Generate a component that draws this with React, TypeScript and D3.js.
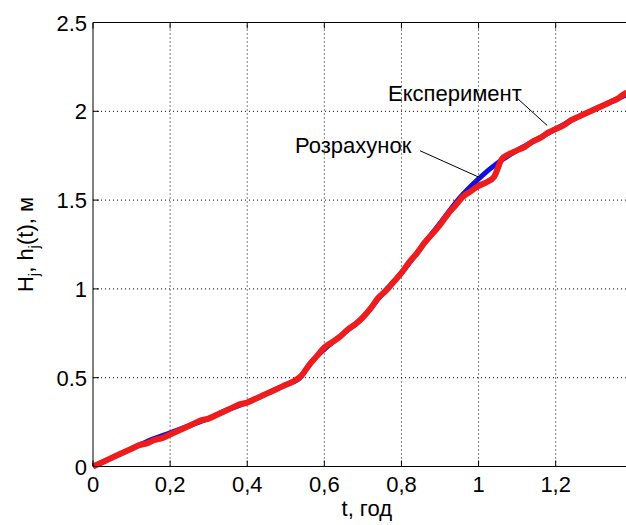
import { useEffect, useRef } from "react";
import * as d3 from "d3";

// t, years
const calcT = [0, 0.05, 0.1, 0.15, 0.2, 0.25, 0.3, 0.35, 0.4, 0.45, 0.5, 0.537, 0.56, 0.58, 0.6, 0.65, 0.7, 0.75, 0.8, 0.85, 0.9, 0.95, 1.0, 1.05, 1.1, 1.15, 1.2, 1.25, 1.3, 1.35, 1.4, 1.42];
const calcH = [0, 0.05, 0.1, 0.15, 0.19, 0.23, 0.27, 0.32, 0.36, 0.41, 0.46, 0.5, 0.57, 0.62, 0.66, 0.75, 0.84, 0.97, 1.09, 1.23, 1.37, 1.51, 1.62, 1.71, 1.78, 1.84, 1.9, 1.96, 2.01, 2.06, 2.11, 2.13];

const expT = [0, 0.02, 0.04, 0.06, 0.08, 0.1, 0.12, 0.14, 0.16, 0.18, 0.2, 0.22, 0.24, 0.26, 0.28, 0.3, 0.32, 0.34, 0.36, 0.38, 0.4, 0.42, 0.44, 0.46, 0.48, 0.5, 0.52, 0.54, 0.56, 0.58, 0.6, 0.62, 0.64, 0.66, 0.68, 0.7, 0.72, 0.74, 0.76, 0.78, 0.8, 0.82, 0.84, 0.86, 0.88, 0.9, 0.92, 0.94, 0.96, 0.98, 1.0, 1.02, 1.04, 1.06, 1.08, 1.1, 1.12, 1.14, 1.16, 1.18, 1.2, 1.22, 1.24, 1.26, 1.28, 1.3, 1.32, 1.34, 1.36, 1.38, 1.4, 1.42];
const expH = [0, 0.02, 0.04, 0.06, 0.08, 0.1, 0.12, 0.13, 0.15, 0.16, 0.18, 0.2, 0.22, 0.24, 0.26, 0.27, 0.29, 0.31, 0.33, 0.35, 0.36, 0.38, 0.4, 0.42, 0.44, 0.46, 0.48, 0.51, 0.57, 0.62, 0.67, 0.7, 0.73, 0.77, 0.8, 0.84, 0.89, 0.95, 0.99, 1.04, 1.09, 1.15, 1.2, 1.26, 1.31, 1.36, 1.42, 1.47, 1.52, 1.55, 1.58, 1.6, 1.63, 1.73, 1.76, 1.78, 1.8, 1.83, 1.85, 1.88, 1.9, 1.92, 1.95, 1.97, 1.99, 2.01, 2.03, 2.05, 2.07, 2.1, 2.11, 2.13];

const xTicks = [0, 0.2, 0.4, 0.6, 0.8, 1, 1.2];
const xTickLabels = ["0", "0,2", "0,4", "0,6", "0,8", "1", "1,2"];
const yTicks = [0, 0.5, 1, 1.5, 2, 2.5];
const yTickLabels = ["0", "0.5", "1", "1.5", "2", "2.5"];

export default function App() {
  const ref = useRef<SVGSVGElement>(null);

  useEffect(() => {
    const svg = d3.select(ref.current);
    svg.selectAll("*").remove();
    const font = "'Liberation Sans', Arial, sans-serif";
    const fs = 22;

    const x0 = 93, x1 = 640.5, y0 = 466.5, y1 = 22.5;
    const xScale = d3.scaleLinear().domain([0, 1.42]).range([x0, x1]);
    const yScale = d3.scaleLinear().domain([0, 2.5]).range([y0, y1]);

    svg.append("rect").attr("width", 626).attr("height", 525).attr("fill", "#fff");

    const g = svg.append("g");

    // grid
    xTicks.filter(d => d > 0).forEach(d => {
      g.append("line")
        .attr("x1", xScale(d)).attr("x2", xScale(d))
        .attr("y1", y0).attr("y2", y1)
        .attr("stroke", "#000").attr("stroke-width", 1)
        .attr("stroke-dasharray", "1,3");
    });
    yTicks.filter(d => d > 0 && d < 2.5).forEach(d => {
      g.append("line")
        .attr("x1", x0).attr("x2", x1)
        .attr("y1", yScale(d)).attr("y2", yScale(d))
        .attr("stroke", "#000").attr("stroke-width", 1)
        .attr("stroke-dasharray", "1,3");
    });

    // curves
    const line = d3.line<[number, number]>()
      .x(d => xScale(d[0]))
      .y(d => yScale(d[1]))
      .curve(d3.curveMonotoneX);

    const calc = calcT.map((t, i) => [t, calcH[i]] as [number, number]);
    const exp = expT.map((t, i) => [t, expH[i]] as [number, number]);

    g.append("path").attr("d", line(calc))
      .attr("fill", "none").attr("stroke", "#1010e0").attr("stroke-width", 5);
    g.append("path").attr("d", line(exp))
      .attr("fill", "none").attr("stroke", "#ee1c1c").attr("stroke-width", 6)
      .attr("stroke-linejoin", "round");

    // axes box
    g.append("line").attr("x1", x0).attr("x2", x1).attr("y1", y0).attr("y2", y0).attr("stroke", "#000");
    g.append("line").attr("x1", x0).attr("x2", x1).attr("y1", y1).attr("y2", y1).attr("stroke", "#000");
    g.append("line").attr("x1", x0).attr("x2", x0).attr("y1", y0).attr("y2", y1).attr("stroke", "#000");

    // ticks + labels
    xTicks.forEach((d, i) => {
      const x = xScale(d);
      g.append("line").attr("x1", x).attr("x2", x).attr("y1", y0).attr("y2", y0 - 6).attr("stroke", "#000");
      g.append("line").attr("x1", x).attr("x2", x).attr("y1", y1).attr("y2", y1 + 6).attr("stroke", "#000");
      g.append("text").text(xTickLabels[i])
        .attr("x", x).attr("y", 492)
        .attr("text-anchor", "middle")
        .attr("font-family", font).attr("font-size", fs);
    });
    yTicks.forEach((d, i) => {
      const y = yScale(d);
      g.append("line").attr("x1", x0).attr("x2", x0 + 6).attr("y1", y).attr("y2", y).attr("stroke", "#000");
      g.append("text").text(yTickLabels[i])
        .attr("x", 87).attr("y", y + 8)
        .attr("text-anchor", "end")
        .attr("font-family", font).attr("font-size", fs);
    });

    // axis titles
    g.append("text").text("t, год")
      .attr("x", (x0 + x1) / 2).attr("y", 516)
      .attr("text-anchor", "middle")
      .attr("font-family", font).attr("font-size", fs);

    const yl = g.append("text")
      .attr("transform", `translate(33, ${(y0 + y1) / 2}) rotate(-90)`)
      .attr("text-anchor", "middle")
      .attr("font-family", font).attr("font-size", fs);
    yl.append("tspan").text("H");
    yl.append("tspan").text("j").attr("font-size", 15).attr("dy", 6);
    yl.append("tspan").text(", h").attr("dy", -6);
    yl.append("tspan").text("j").attr("font-size", 15).attr("dy", 6);
    yl.append("tspan").text("(t), м").attr("dy", -6);

    // annotations
    g.append("text").text("Експеримент")
      .attr("x", xScale(0.765)).attr("y", yScale(2.06))
      .attr("font-family", font).attr("font-size", fs);
    g.append("line")
      .attr("x1", xScale(1.102)).attr("y1", yScale(2.07))
      .attr("x2", xScale(1.178)).attr("y2", yScale(1.92))
      .attr("stroke", "#000").attr("stroke-width", 1);

    g.append("text").text("Розрахунок")
      .attr("x", xScale(0.524)).attr("y", yScale(1.767))
      .attr("font-family", font).attr("font-size", fs);
    g.append("line")
      .attr("x1", xScale(0.848)).attr("y1", yScale(1.778))
      .attr("x2", xScale(1.004)).attr("y2", yScale(1.626))
      .attr("stroke", "#000").attr("stroke-width", 1);
  }, []);

  return (
    <svg
      ref={ref}
      width={626}
      height={525}
      style={{ position: "absolute", left: 0, top: 0, display: "block" }}
    />
  );
}
